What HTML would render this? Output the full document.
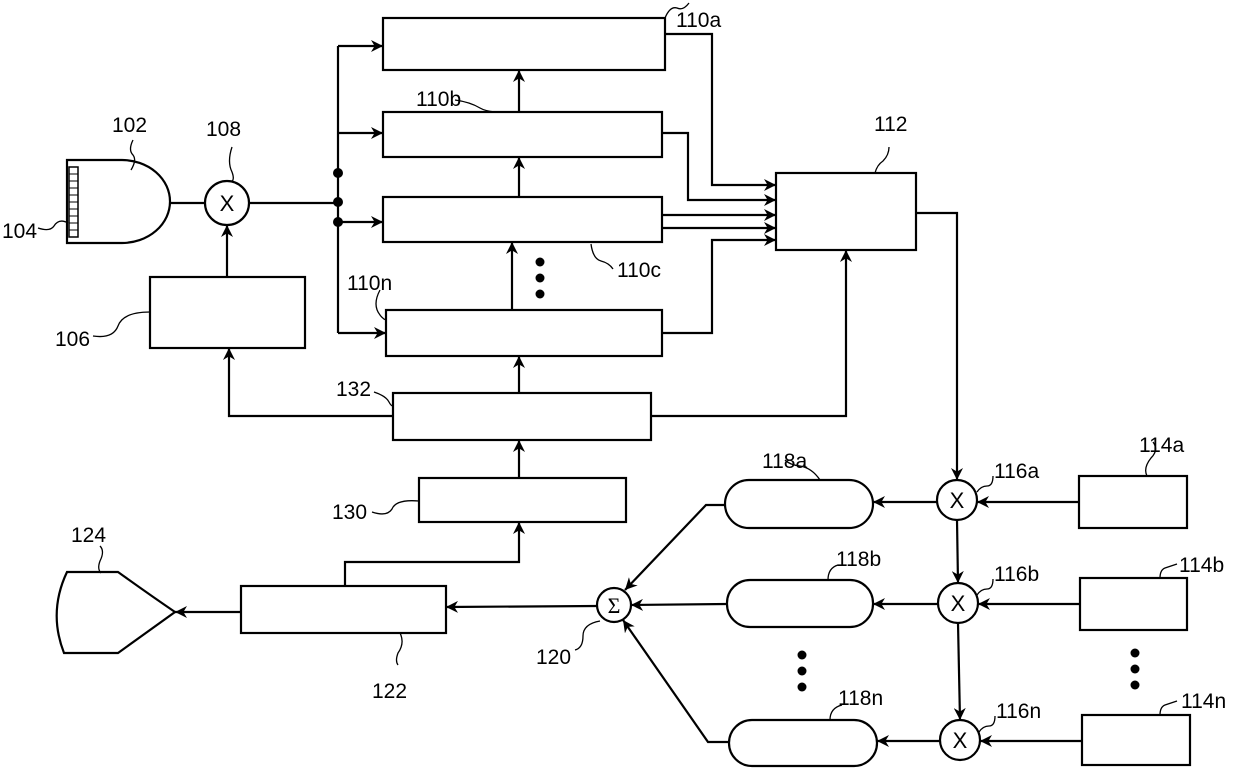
<!DOCTYPE html>
<html><head><style>html,body{margin:0;padding:0;background:#fff}</style></head>
<body>
<svg width="1240" height="768" viewBox="0 0 1240 768" xmlns="http://www.w3.org/2000/svg" font-family="Liberation Sans, sans-serif" font-size="21">
<defs>
<marker id="a" viewBox="0 0 10 10" refX="10" refY="5" markerWidth="12" markerHeight="12" markerUnits="userSpaceOnUse" orient="auto"><path d="M0,0 L10,5 L0,10 L3,5 z" fill="#000"/></marker>
</defs>
<g fill="none" stroke="#000" stroke-width="2.2">
<rect x="383" y="18" width="282" height="52"/>
<rect x="383" y="112" width="279" height="45"/>
<rect x="383" y="197" width="279" height="45"/>
<rect x="386" y="310" width="276" height="46"/>
<rect x="776" y="173" width="140" height="77"/>
<rect x="150" y="277" width="155" height="71"/>
<rect x="393" y="393" width="258" height="47"/>
<rect x="419" y="478" width="207" height="44"/>
<rect x="241" y="586" width="205" height="47"/>
<rect x="725" y="480" width="148" height="48" rx="24"/>
<rect x="727" y="580" width="146" height="47" rx="23"/>
<rect x="729" y="720" width="148" height="46" rx="23"/>
<rect x="1079" y="476" width="108" height="52"/>
<rect x="1080" y="578" width="107" height="52"/>
<rect x="1082" y="715" width="108" height="50"/>
<circle cx="957" cy="500" r="20"/>
<circle cx="958" cy="603" r="20"/>
<circle cx="960" cy="740" r="20"/>
<circle cx="614" cy="605" r="17"/>
<circle cx="227" cy="203" r="22"/>
<path d="M67,160 L122,160 A48,41.5 0 0 1 122,243 L67,243 Z"/>
<rect x="69" y="167" width="9" height="70" stroke-width="1.5"/>
<path d="M69,174h9M69,181h9M69,188h9M69,195h9M69,202h9M69,209h9M69,216h9M69,223h9M69,230h9" stroke-width="1"/>
<path d="M67,572 L118,572 Q150,595 175,612 Q150,630 118,653 L64,653 Q48,612 67,572 Z"/>
<line x1="170" y1="203" x2="205" y2="203"/>
<line x1="249" y1="203" x2="338" y2="203"/>
<line x1="338" y1="46" x2="338" y2="333"/>
<line x1="338" y1="46" x2="383" y2="46" marker-end="url(#a)"/>
<line x1="338" y1="133" x2="383" y2="133" marker-end="url(#a)"/>
<line x1="338" y1="222" x2="383" y2="222" marker-end="url(#a)"/>
<line x1="338" y1="333" x2="386" y2="333" marker-end="url(#a)"/>
<line x1="519" y1="112" x2="519" y2="70" marker-end="url(#a)"/>
<line x1="519" y1="197" x2="519" y2="157" marker-end="url(#a)"/>
<line x1="512" y1="310" x2="512" y2="242" marker-end="url(#a)"/>
<line x1="519" y1="393" x2="519" y2="356" marker-end="url(#a)"/>
<line x1="519" y1="478" x2="519" y2="440" marker-end="url(#a)"/>
<polyline points="665,34 712,34 712,185 776,185" marker-end="url(#a)"/>
<polyline points="662,133 688,133 688,200 776,200" marker-end="url(#a)"/>
<line x1="662" y1="215" x2="776" y2="215" marker-end="url(#a)"/>
<line x1="662" y1="228" x2="776" y2="228" marker-end="url(#a)"/>
<polyline points="662,333 712,333 712,240 776,240" marker-end="url(#a)"/>
<polyline points="651,416 846,416 846,250" marker-end="url(#a)"/>
<polyline points="393,416 229,416 229,348" marker-end="url(#a)"/>
<line x1="227" y1="277" x2="227" y2="225" marker-end="url(#a)"/>
<polyline points="916,213 957,213 957,480" marker-end="url(#a)"/>
<line x1="957" y1="520" x2="958" y2="583" marker-end="url(#a)"/>
<line x1="958" y1="623" x2="960" y2="720" marker-end="url(#a)"/>
<line x1="1079" y1="502" x2="977" y2="502" marker-end="url(#a)"/>
<line x1="1080" y1="604" x2="978" y2="604" marker-end="url(#a)"/>
<line x1="1082" y1="741" x2="980" y2="741" marker-end="url(#a)"/>
<line x1="937" y1="502" x2="873" y2="502" marker-end="url(#a)"/>
<line x1="938" y1="604" x2="873" y2="604" marker-end="url(#a)"/>
<line x1="940" y1="741" x2="877" y2="741" marker-end="url(#a)"/>
<polyline points="725,505 706,505 625,590" marker-end="url(#a)"/>
<line x1="727" y1="604" x2="631" y2="605" marker-end="url(#a)"/>
<polyline points="729,742 708,742 623,620" marker-end="url(#a)"/>
<line x1="597" y1="606" x2="446" y2="607" marker-end="url(#a)"/>
<polyline points="345,586 345,562 519,562 519,522" marker-end="url(#a)"/>
<line x1="241" y1="612" x2="175" y2="612" marker-end="url(#a)"/>
<g stroke-width="1.3">
<path d="M133,140 q-5,10 0,15 q4,5 -2,15"/>
<path d="M232,147 q-5,15 0,25 q3,8 -1,10"/>
<path d="M38,228 q12,4 16,-2 q5,-8 14,-3"/>
<path d="M93,336 q20,3 25,-10 q5,-14 32,-14"/>
<path d="M665,18 q5,-12 12,-10 q6,3 12,-5"/>
<path d="M455,100 q15,2 25,8 q5,3 15,4"/>
<path d="M591,244 q2,15 10,17 q8,2 12,8"/>
<path d="M380,290 q-8,15 0,25 q3,4 6,5"/>
<path d="M875,173 q2,-8 8,-12 q6,-6 6,-14"/>
<path d="M374,392 q12,4 15,10 q2,4 4,4"/>
<path d="M372,512 q15,5 20,-3 q4,-10 27,-8"/>
<path d="M400,633 q5,10 -2,20 q-3,8 0,12"/>
<path d="M100,546 q5,5 0,15 q-3,8 1,12"/>
<path d="M575,650 q8,-2 8,-14 q0,-12 17,-15"/>
<path d="M820,480 q-8,-12 -20,-14 q-10,-1 -15,-6"/>
<path d="M828,580 q0,-12 10,-15"/>
<path d="M830,720 q0,-12 12,-15"/>
<path d="M1147,476 q-4,-8 4,-18 q8,-8 2,-16"/>
<path d="M1160,578 q0,-8 5,-10 q6,-2 12,-4"/>
<path d="M1160,715 q0,-8 5,-10 q6,-2 12,-4"/>
<path d="M977,492 q4,-6 10,-6 q6,0 6,-10"/>
<path d="M977,595 q4,-6 10,-6 q6,0 6,-10"/>
<path d="M979,732 q4,-6 10,-6 q6,0 6,-10"/>
</g>
</g>
<g fill="#000">
<circle cx="338" cy="173" r="5"/><circle cx="338" cy="202" r="5"/><circle cx="338" cy="222" r="5"/>
<circle cx="540" cy="262" r="4.5"/><circle cx="540" cy="278" r="4.5"/><circle cx="540" cy="294" r="4.5"/>
<circle cx="802" cy="655" r="4.5"/><circle cx="802" cy="671" r="4.5"/><circle cx="802" cy="687" r="4.5"/>
<circle cx="1135" cy="653" r="4.5"/><circle cx="1135" cy="669" r="4.5"/><circle cx="1135" cy="685" r="4.5"/>
</g>
<g fill="#000">
<text x="227" y="211" text-anchor="middle" font-size="22">X</text>
<text x="957" y="508" text-anchor="middle" font-size="22">X</text>
<text x="958" y="611" text-anchor="middle" font-size="22">X</text>
<text x="960" y="748" text-anchor="middle" font-size="22">X</text>
<text x="614" y="613" text-anchor="middle" font-size="22" font-family="Liberation Serif, serif">Σ</text>
<text x="112" y="132">102</text>
<text x="206" y="136">108</text>
<text x="2" y="238">104</text>
<text x="55" y="346">106</text>
<text x="676" y="27">110a</text>
<text x="416" y="106">110b</text>
<text x="617" y="277">110c</text>
<text x="347" y="290">110n</text>
<text x="874" y="131">112</text>
<text x="336" y="396">132</text>
<text x="332" y="519">130</text>
<text x="71" y="542">124</text>
<text x="372" y="698">122</text>
<text x="536" y="664">120</text>
<text x="762" y="468">118a</text>
<text x="836" y="566">118b</text>
<text x="838" y="705">118n</text>
<text x="1139" y="452">114a</text>
<text x="1179" y="572">114b</text>
<text x="1181" y="708">114n</text>
<text x="994" y="478">116a</text>
<text x="994" y="581">116b</text>
<text x="996" y="718">116n</text>
</g>
</svg>
</body></html>
